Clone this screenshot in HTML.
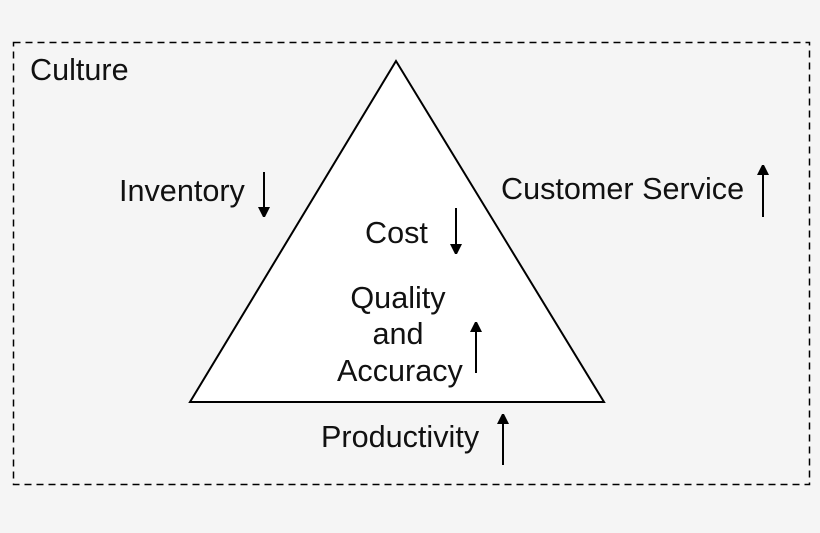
<!DOCTYPE html>
<html><head><style>
html,body{margin:0;padding:0;background:#f5f5f5;}
svg{display:block;}
text{font-family:"Liberation Sans",Arial,sans-serif;font-size:30.6px;fill:#111;}
</style></head><body>
<svg width="820" height="533" viewBox="0 0 820 533" xmlns="http://www.w3.org/2000/svg">
<defs>
<marker id="ah" markerWidth="10" markerHeight="12" refX="5" refY="6" orient="auto" markerUnits="userSpaceOnUse">
<path d="M0,0 L12,6 L0,12 z" fill="#000"/>
</marker>
</defs>
<rect x="13.5" y="42.5" width="796" height="442" fill="none" stroke="#000" stroke-width="1.5" stroke-dasharray="7,5"/>
<polygon points="396,61 190,402 604,402" fill="#fff" stroke="#000" stroke-width="2"/>
<text x="30" y="80">Culture</text>
<text x="119" y="201">Inventory</text>
<line x1="264" y1="172" x2="264" y2="212" stroke="#000" stroke-width="2" marker-end="url(#ah)"/>
<text x="501" y="199">Customer Service</text>
<line x1="763" y1="217" x2="763" y2="170" stroke="#000" stroke-width="2" marker-end="url(#ah)"/>
<text x="365" y="243">Cost</text>
<line x1="456" y1="208" x2="456" y2="249" stroke="#000" stroke-width="2" marker-end="url(#ah)"/>
<text x="398" y="308" text-anchor="middle">Quality</text>
<text x="398" y="344" text-anchor="middle">and</text>
<text x="337" y="381">Accuracy</text>
<line x1="476" y1="373" x2="476" y2="327" stroke="#000" stroke-width="2" marker-end="url(#ah)"/>
<text x="321" y="447">Productivity</text>
<line x1="503" y1="465" x2="503" y2="419" stroke="#000" stroke-width="2" marker-end="url(#ah)"/>
</svg>
</body></html>
